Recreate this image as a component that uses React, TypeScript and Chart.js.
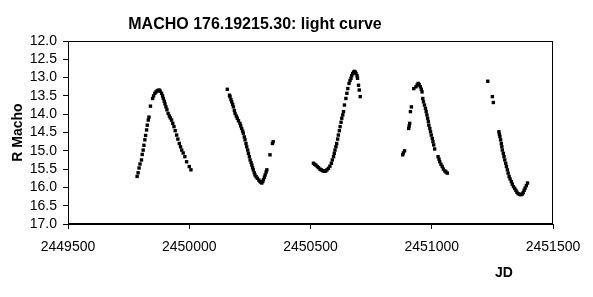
import { useEffect, useRef } from "react";
import { Chart, registerables } from "chart.js";

Chart.register(...registerables);

const chartTitle = "MACHO 176.19215.30: light curve";
const xAxisTitle = "JD";
const yAxisTitle = "R Macho";
const xTickValues = [2449500, 2450000, 2450500, 2451000, 2451500];
const yTickValues = [12.0, 12.5, 13.0, 13.5, 14.0, 14.5, 15.0, 15.5, 16.0, 16.5, 17.0];

const season1JD = [2449785, 2449789, 2449793, 2449797, 2449803, 2449806, 2449810, 2449813, 2449817, 2449820, 2449824, 2449827, 2449831, 2449834, 2449840, 2449849, 2449853, 2449858, 2449863, 2449868, 2449872, 2449876, 2449880, 2449886, 2449890, 2449893, 2449897, 2449900, 2449904, 2449908, 2449913, 2449918, 2449922, 2449927, 2449932, 2449937, 2449942, 2449948, 2449953, 2449959, 2449964, 2449969, 2449975, 2449982, 2449989, 2450000, 2450007];
const season1Mag = [15.70, 15.60, 15.47, 15.36, 15.25, 15.10, 14.98, 14.85, 14.70, 14.58, 14.43, 14.30, 14.16, 14.08, 13.78, 13.57, 13.50, 13.43, 13.39, 13.36, 13.35, 13.34, 13.37, 13.43, 13.50, 13.57, 13.65, 13.72, 13.80, 13.88, 13.98, 14.05, 14.10, 14.16, 14.25, 14.34, 14.45, 14.57, 14.68, 14.80, 14.89, 14.98, 15.06, 15.16, 15.30, 15.43, 15.52];

const season2JD = [2450157, 2450166, 2450168, 2450172, 2450175, 2450179, 2450182, 2450186, 2450189, 2450194, 2450198, 2450203, 2450209, 2450212, 2450216, 2450220, 2450223, 2450227, 2450230, 2450234, 2450237, 2450241, 2450244, 2450248, 2450251, 2450255, 2450258, 2450261, 2450264, 2450268, 2450271, 2450276, 2450281, 2450287, 2450292, 2450296, 2450299, 2450303, 2450306, 2450310, 2450313, 2450317, 2450320, 2450333, 2450343, 2450346];
const season2Mag = [13.32, 13.48, 13.52, 13.60, 13.66, 13.73, 13.80, 13.90, 13.98, 14.05, 14.11, 14.18, 14.25, 14.32, 14.39, 14.46, 14.52, 14.62, 14.70, 14.80, 14.89, 14.98, 15.07, 15.16, 15.25, 15.32, 15.39, 15.46, 15.52, 15.60, 15.66, 15.71, 15.75, 15.80, 15.84, 15.86, 15.88, 15.84, 15.79, 15.72, 15.66, 15.58, 15.52, 15.11, 14.80, 14.75];

const season3JD = [2450512, 2450517, 2450522, 2450528, 2450533, 2450539, 2450544, 2450549, 2450554, 2450559, 2450563, 2450568, 2450574, 2450580, 2450586, 2450590, 2450595, 2450598, 2450601, 2450605, 2450608, 2450612, 2450615, 2450619, 2450622, 2450626, 2450629, 2450633, 2450636, 2450640, 2450646, 2450650, 2450654, 2450659, 2450663, 2450667, 2450670, 2450674, 2450678, 2450681, 2450685, 2450688, 2450692, 2450694, 2450698, 2450701, 2450705];
const season3Mag = [15.34, 15.37, 15.39, 15.43, 15.46, 15.50, 15.52, 15.54, 15.55, 15.56, 15.55, 15.52, 15.48, 15.42, 15.34, 15.25, 15.16, 15.07, 14.98, 14.89, 14.80, 14.68, 14.57, 14.45, 14.34, 14.22, 14.11, 14.02, 13.93, 13.75, 13.57, 13.43, 13.30, 13.16, 13.08, 13.02, 12.95, 12.89, 12.85, 12.83, 12.85, 12.89, 12.95, 13.02, 13.21, 13.34, 13.52];

const season4JD = [2450880, 2450883, 2450888, 2450905, 2450907, 2450909, 2450912, 2450916, 2450926, 2450935, 2450940, 2450944, 2450948, 2450953, 2450957, 2450960, 2450963, 2450966, 2450970, 2450974, 2450977, 2450980, 2450983, 2450986, 2450988, 2450992, 2450995, 2450998, 2451002, 2451005, 2451008, 2451012, 2451026, 2451030, 2451033, 2451038, 2451043, 2451048, 2451054, 2451059, 2451064];
const season4Mag = [15.11, 15.06, 15.00, 14.39, 14.32, 14.25, 13.93, 13.80, 13.30, 13.25, 13.20, 13.16, 13.19, 13.25, 13.32, 13.39, 13.57, 13.66, 13.75, 13.84, 13.93, 14.02, 14.11, 14.20, 14.30, 14.39, 14.48, 14.57, 14.66, 14.75, 14.84, 14.95, 15.16, 15.23, 15.30, 15.37, 15.43, 15.50, 15.55, 15.58, 15.61];

const season5JD = [2451231, 2451250, 2451254, 2451277, 2451279, 2451281, 2451284, 2451287, 2451289, 2451291, 2451295, 2451298, 2451301, 2451305, 2451308, 2451312, 2451315, 2451319, 2451323, 2451328, 2451332, 2451337, 2451342, 2451347, 2451351, 2451356, 2451362, 2451368, 2451373, 2451377, 2451381, 2451385, 2451390, 2451395];
const season5Mag = [13.10, 13.52, 13.68, 14.48, 14.55, 14.61, 14.70, 14.80, 14.89, 14.98, 15.07, 15.16, 15.25, 15.34, 15.43, 15.52, 15.61, 15.70, 15.77, 15.84, 15.91, 15.98, 16.03, 16.08, 16.13, 16.17, 16.19, 16.20, 16.18, 16.14, 16.08, 16.02, 15.95, 15.88];

const allJD = [...season1JD, ...season2JD, ...season3JD, ...season4JD, ...season5JD];
const allMag = [...season1Mag, ...season2Mag, ...season3Mag, ...season4Mag, ...season5Mag];

const FONT = "'Liberation Sans', Arial, sans-serif";

export default function App() {
  const ref = useRef<HTMLCanvasElement>(null);

  useEffect(() => {
    document.body.style.margin = "0";
    const canvas = ref.current;
    if (!canvas) return;

    const textPlugin = {
      id: "lightCurveTexts",
      afterDraw(chart: any) {
        const { ctx, chartArea: a } = chart;
        ctx.save();
        ctx.strokeStyle = "#000";
        ctx.lineWidth = 1;
        const l = Math.round(a.left) + 0.5;
        const t = Math.round(a.top) + 0.5;
        const r = Math.round(a.right) - 0.5;
        const b = Math.round(a.bottom) - 0.5;
        ctx.strokeRect(l, t, r - l, b - t);

        ctx.fillStyle = "#000";
        ctx.textAlign = "center";
        ctx.textBaseline = "middle";
        ctx.font = `bold 16px ${FONT}`;
        ctx.fillText(chartTitle, 255, 25);

        ctx.font = `bold 14px ${FONT}`;
        ctx.fillText(xAxisTitle, 504, 273);

        ctx.translate(18, (a.top + a.bottom) / 2);
        ctx.rotate(-Math.PI / 2);
        ctx.fillText(yAxisTitle, 0, 0);
        ctx.restore();
      },
    };

    const chart = new Chart(canvas, {
      type: "scatter",
      data: {
        datasets: [
          {
            data: allJD.map((x, i) => ({ x, y: allMag[i] })),
            backgroundColor: "#000",
            borderColor: "#000",
            pointStyle: "rect",
            pointRadius: 2.4,
            pointBorderWidth: 0,
            showLine: false,
          },
        ],
      },
      options: {
        animation: false,
        responsive: false,
        maintainAspectRatio: false,
        layout: { padding: { top: 41, right: 40, left: 0, bottom: 0 } },
        plugins: {
          legend: { display: false },
          tooltip: { enabled: false },
          title: { display: false },
        },
        scales: {
          x: {
            type: "linear",
            min: xTickValues[0],
            max: xTickValues[xTickValues.length - 1],
            afterBuildTicks: (scale: any) => {
              scale.ticks = xTickValues.map((v) => ({ value: v }));
            },
            afterFit: (scale: any) => {
              scale.height = 73;
            },
            grid: {
              display: true,
              drawOnChartArea: false,
              drawTicks: true,
              tickLength: 5,
              color: "#000",
            },
            border: { display: true, color: "#000", width: 1 },
            ticks: {
              color: "#000",
              font: { family: FONT, size: 14 },
              padding: 10,
              maxRotation: 0,
              autoSkip: false,
              callback: (v: any) => String(v),
            },
          },
          y: {
            type: "linear",
            reverse: true,
            min: yTickValues[0],
            max: yTickValues[yTickValues.length - 1],
            afterBuildTicks: (scale: any) => {
              scale.ticks = yTickValues.map((v) => ({ value: v }));
            },
            afterFit: (scale: any) => {
              scale.width = 68;
            },
            grid: {
              display: true,
              drawOnChartArea: false,
              drawTicks: true,
              tickLength: 5,
              color: "#000",
            },
            border: { display: true, color: "#000", width: 1 },
            ticks: {
              color: "#000",
              font: { family: FONT, size: 14 },
              padding: 6,
              autoSkip: false,
              callback: (v: any) => Number(v).toFixed(1),
            },
          },
        },
      },
      plugins: [textPlugin],
    });

    return () => chart.destroy();
  }, []);

  return (
    <div style={{ position: "absolute", left: 0, top: 0, width: 593, height: 297 }}>
      <canvas ref={ref} width={593} height={297} style={{ width: 593, height: 297, display: "block" }} />
    </div>
  );
}
